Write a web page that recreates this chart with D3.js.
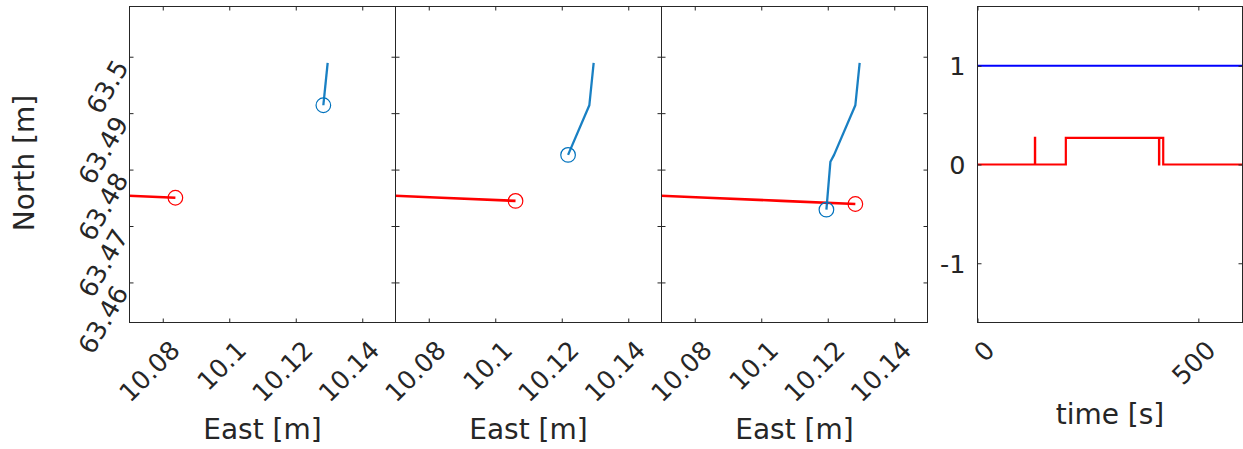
<!DOCTYPE html>
<html>
<head>
<meta charset="utf-8">
<script src="https://cdn.jsdelivr.net/npm/d3@7"></script>
<style>
  body { margin: 0; background: #fff; }
  svg { display: block; }
  text { font-family: "DejaVu Sans", sans-serif; fill: #262626; }
</style>
</head>
<body>
<svg id="fig" width="1243" height="449"></svg>
<script>
// Vessel tracks (East / North) — red: own ship, blue: target
const redEast   = [10.0680, 10.0838, 10.1061, 10.1283];
const redNorth  = [63.4754, 63.47501, 63.47445, 63.4739];
const blueEast  = [10.1296, 10.1283, 10.1219, 10.1208, 10.1196];
const blueNorth = [63.4989, 63.4914, 63.4826, 63.4814, 63.4729];
// last track sample drawn in each of the three snapshot panels
const redSnapshot  = [1, 2, 3];
const blueSnapshot = [1, 2, 4];

const eastTicks  = [10.08, 10.1, 10.12, 10.14];
const eastLabels = ["10.08", "10.1", "10.12", "10.14"];
const northTicks  = [63.46, 63.47, 63.48, 63.49, 63.5];
const northLabels = ["63.46", "63.47", "63.48", "63.49", "63.5"];

// Mode signals over time
const blueTime  = [0, 600];
const blueLevel = [1, 1];
const redTime  = [0, 130, 130, 130.5, 130.5, 200, 200, 411, 411, 411.5, 411.5, 420.5, 420.5, 600];
const redLevel = [0, 0, 0.27, 0.27, 0, 0, 0.27, 0.27, 0, 0, 0.27, 0.27, 0, 0];

const timeTicks  = [0, 500];
const timeLabels = ["0", "500"];
const levelTicks  = [-1, 0, 1];
const levelLabels = ["-1", "0", "1"];

const svg = d3.select("#fig");
const AX = "#262626";
const TOP = 6.5, H = 316, W = 266;
const TICK = 4;
const tickFont = 25.5, labelFont = 28;

const eastDomain = [10.07, 10.15];
const northDomain = [63.4529, 63.5089];

function frame(g, x0, y0, w, h) {
  g.append("rect").attr("x", x0).attr("y", y0).attr("width", w).attr("height", h)
    .attr("fill", "none").attr("stroke", AX).attr("stroke-width", 1);
}

function styleAxis(sel) {
  sel.select(".domain").remove();
  sel.selectAll(".tick line").attr("stroke", AX).attr("stroke-width", 1);
}

function drawAxes(g, x, y, xTicks, xLabels, yTicks, yLabels, showX, showY, yRot) {
  const [l, r] = x.range();
  const [b, t] = y.range();
  const xl = d3.scaleOrdinal().domain(xTicks).range(xLabels);
  const yl = d3.scaleOrdinal().domain(yTicks).range(yLabels);

  const bottom = g.append("g").attr("transform", `translate(0,${b})`)
    .call(d3.axisBottom(x).tickValues(xTicks).tickSizeInner(-TICK).tickSizeOuter(0)
      .tickFormat(d => showX ? xl(d) : ""));
  styleAxis(bottom);
  bottom.selectAll(".tick text")
    .attr("x", 0).attr("y", 0).attr("dy", "0.35em")
    .attr("text-anchor", "end")
    .attr("transform", "translate(12,23) rotate(-45)")
    .style("font-size", tickFont + "px").attr("fill", AX);

  const topAx = g.append("g").attr("transform", `translate(0,${t})`)
    .call(d3.axisTop(x).tickValues(xTicks).tickSizeInner(-TICK).tickSizeOuter(0).tickFormat(""));
  styleAxis(topAx);

  const left = g.append("g").attr("transform", `translate(${l},0)`)
    .call(d3.axisLeft(y).tickValues(yTicks).tickSizeInner(-TICK).tickSizeOuter(0)
      .tickFormat(d => showY ? yl(d) : ""));
  styleAxis(left);
  if (yRot) {
    left.selectAll(".tick text")
      .attr("x", 0).attr("y", 0).attr("dy", "0.35em")
      .attr("text-anchor", "end")
      .attr("transform", `translate(-8,5) rotate(${yRot})`)
      .style("font-size", tickFont + "px").attr("fill", AX);
  } else {
    left.selectAll(".tick text")
      .attr("x", -12).attr("dy", "0.35em")
      .attr("text-anchor", "end")
      .style("font-size", tickFont + "px").attr("fill", AX);
  }

  const rightAx = g.append("g").attr("transform", `translate(${r},0)`)
    .call(d3.axisRight(y).tickValues(yTicks).tickSizeInner(-TICK).tickSizeOuter(0).tickFormat(""));
  styleAxis(rightAx);
}

// Three East/North snapshot panels
const panelLefts = [129.5, 395.5, 661.5];
const defs = svg.append("defs");

panelLefts.forEach((x0, i) => {
  const g = svg.append("g");
  const x = d3.scaleLinear().domain(eastDomain).range([x0, x0 + W]);
  const y = d3.scaleLinear().domain(northDomain).range([TOP + H, TOP]);
  const clipId = "clip" + i;
  defs.append("clipPath").attr("id", clipId)
    .append("rect").attr("x", x0).attr("y", TOP).attr("width", W).attr("height", H);

  const data = g.append("g").attr("clip-path", `url(#${clipId})`);
  const line = d3.line().x(d => x(d[0])).y(d => y(d[1]));

  const red = redEast.slice(0, redSnapshot[i] + 1).map((e, k) => [e, redNorth[k]]);
  const blue = blueEast.slice(0, blueSnapshot[i] + 1).map((e, k) => [e, blueNorth[k]]);

  data.append("path").datum(red).attr("d", line)
    .attr("fill", "none").attr("stroke", "#ff0000").attr("stroke-width", 2.6)
    .attr("stroke-linejoin", "round");
  data.append("path").datum(blue).attr("d", line)
    .attr("fill", "none").attr("stroke", "#0072bd").attr("stroke-width", 2.3)
    .attr("stroke-linejoin", "round").attr("stroke-opacity", 0.9);

  const rEnd = red[red.length - 1], bEnd = blue[blue.length - 1];
  data.append("circle").attr("cx", x(rEnd[0])).attr("cy", y(rEnd[1])).attr("r", 7.3)
    .attr("fill", "none").attr("stroke", "#ff0000").attr("stroke-width", 1.2);
  data.append("circle").attr("cx", x(bEnd[0])).attr("cy", y(bEnd[1])).attr("r", 7.3)
    .attr("fill", "none").attr("stroke", "#0072bd").attr("stroke-width", 1.2);

  drawAxes(g, x, y, eastTicks, eastLabels, northTicks, northLabels, true, i === 0, -60);
  frame(g, x0, TOP, W, H);

  g.append("text").attr("x", x0 + W / 2).attr("y", 439)
    .attr("text-anchor", "middle").style("font-size", labelFont + "px").text("East [m]");
});

svg.append("text").attr("transform", "translate(34,163) rotate(-90)")
  .attr("text-anchor", "middle").style("font-size", labelFont + "px").text("North [m]");

// Time-series panel
{
  const x0 = 977.5, W4 = 265;
  const g = svg.append("g");
  const x = d3.scaleLinear().domain([0, 600]).range([x0, x0 + W4]);
  const y = d3.scaleLinear().domain([-1.6, 1.6]).range([TOP + H, TOP]);
  defs.append("clipPath").attr("id", "clip3")
    .append("rect").attr("x", x0).attr("y", TOP).attr("width", W4).attr("height", H);
  const data = g.append("g").attr("clip-path", "url(#clip3)");
  const line = d3.line().x(d => x(d[0])).y(d => y(d[1]));

  data.append("path").datum(blueTime.map((t, k) => [t, blueLevel[k]])).attr("d", line)
    .attr("fill", "none").attr("stroke", "#0000ff").attr("stroke-width", 2.2);
  data.append("path").datum(redTime.map((t, k) => [t, redLevel[k]])).attr("d", line)
    .attr("fill", "none").attr("stroke", "#ff0000").attr("stroke-width", 2.2);

  drawAxes(g, x, y, timeTicks, timeLabels, levelTicks, levelLabels, true, true, 0);
  frame(g, x0, TOP, W4, H);

  g.append("text").attr("x", x0 + W4 / 2).attr("y", 424)
    .attr("text-anchor", "middle").style("font-size", labelFont + "px").text("time [s]");
}
</script>
</body>
</html>
